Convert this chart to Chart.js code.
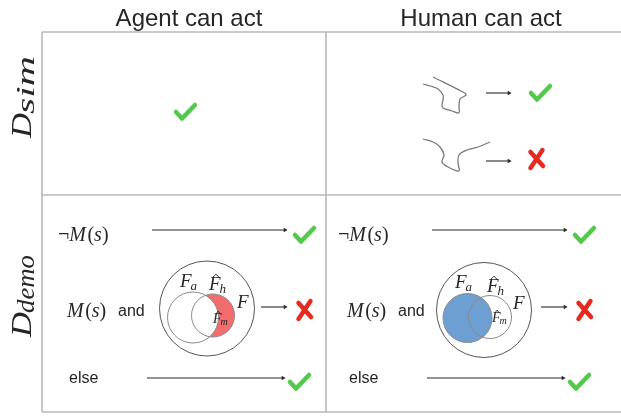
<!DOCTYPE html>
<html>
<head>
<meta charset="utf-8">
<script src="https://cdn.jsdelivr.net/npm/chart.js@4/dist/chart.umd.min.js"></script>
<style>
  html, body { margin: 0; padding: 0; background: #fff; }
  canvas { display: block; }
</style>
</head>
<body>
<canvas id="diagram" width="621" height="417"></canvas>
<script>
// headings
var colLabels = ['Agent can act', 'Human can act'];
var rowSubs = ['sim', 'demo'];

// conditions of the D_demo row
var condMath = ['¬M(s)', 'M(s)', ''];
var condWords = ['', 'and', 'else'];
var demoOutcome = ['ok', 'fail', 'ok'];

// D_sim row: agent cell is always ok, the two human trajectories
var simAgentOutcome = 'ok';
var simHumanOutcome = ['ok', 'fail'];

// set labels in the venn pictures
var setLabels = ['a', 'h', 'm'];   // F_a, F^_h, F^_m and F

// hand drawn trajectories (human / sim cell)
var trajA_x = [423, 430, 438, 443, 443, 442, 443, 452, 459, 459, 460, 466, 463, 433];
var trajA_y = [84, 86, 89, 95, 100, 105, 108, 111, 113, 107, 99, 95, 92, 77];
var trajB_x = [423, 433, 440, 444, 442, 448, 459, 458, 459, 467, 478, 490];
var trajB_y = [139, 142, 147, 155, 162, 167, 171, 163, 155, 150, 147, 142];

// layout (pixels of the 621x417 picture)
var G = {left: 42, top: 32, right: 621, bottom: 412, midX: 326, midY: 195};
var cellDx = 280;
var rowY = [230, 307, 378];        // arrow heights in demo row
var arrowX = [[152, 287], [261, 287], [147, 285]];
var venn = [
  {big: [207, 308.5, 47.5], fa: [193, 317.5, 25.5], fh: [213, 315.5, 21.5], fill: 'fh'},
  {big: [484, 310, 47.5], fa: [467.5, 318, 24.5], fh: [490, 317, 21.5], fill: 'fa'}
];

var GREEN = '#52c94a', RED = '#e62a20', GRID = '#b8b8b8', INK = '#262626';

var datasets = [];
function addLine(xs, ys, color, width, opts) {
  var pts = xs.map(function (x, i) { return {x: x, y: ys[i]}; });
  var d = {
    data: pts, showLine: true, borderColor: color, backgroundColor: color,
    borderWidth: width, pointRadius: 0, tension: 0, fill: false, clip: false
  };
  for (var k in opts) d[k] = opts[k];
  datasets.push(d);
}

// table grid
addLine([G.left, G.right], [G.top, G.top], GRID, 1.6);
addLine([G.left, G.right], [G.midY, G.midY], GRID, 1.6);
addLine([G.left, G.right], [G.bottom, G.bottom], GRID, 1.6);
addLine([G.left, G.left], [G.top, G.bottom], GRID, 1.6);
addLine([G.midX, G.midX], [G.top, G.bottom], GRID, 1.6);

// trajectories
addLine(trajA_x, trajA_y, '#7a7a7a', 1.3, {tension: 0.35});
addLine(trajB_x, trajB_y, '#7a7a7a', 1.3, {tension: 0.35});

// arrows
function addArrow(x0, x1, y) {
  addLine([x0, x1 - 2], [y, y], '#2a2a2a', 1.1, {
    pointRadius: [0, 2.6], pointStyle: 'triangle', rotation: 90,
    pointBorderWidth: 0
  });
}
addArrow(486, 511, 93);
addArrow(486, 511, 161);
[0, 1].forEach(function (c) {
  rowY.forEach(function (y, r) {
    addArrow(arrowX[r][0] + c * cellDx, arrowX[r][1] + c * cellDx, y);
  });
});

function drawCheck(ctx, x0, y0) {
  ctx.save();
  ctx.strokeStyle = GREEN;
  ctx.lineWidth = 4.5;
  ctx.lineCap = 'round';
  ctx.lineJoin = 'round';
  ctx.beginPath();
  ctx.moveTo(x0 + 3, y0 + 10);
  ctx.lineTo(x0 + 9, y0 + 16.5);
  ctx.lineTo(x0 + 22, y0 + 3);
  ctx.stroke();
  ctx.restore();
}
function drawCross(ctx, x0, y0) {
  ctx.save();
  ctx.strokeStyle = RED;
  ctx.lineWidth = 4.5;
  ctx.lineCap = 'round';
  ctx.beginPath();
  ctx.moveTo(x0 + 2.5, y0 + 4);
  ctx.lineTo(x0 + 15, y0 + 18);
  ctx.moveTo(x0 + 14.5, y0 + 2);
  ctx.lineTo(x0 + 2.5, y0 + 20);
  ctx.stroke();
  ctx.restore();
}
function drawOutcome(ctx, kind, x0, y0) {
  if (kind === 'ok') drawCheck(ctx, x0, y0); else drawCross(ctx, x0, y0);
}

function serif(size, italic) {
  return (italic ? 'italic ' : '') + size + 'px "Liberation Serif"';
}
function drawMath(ctx, str, x, y, size) {
  str.split('').forEach(function (c) {
    ctx.font = serif(size, /[A-Za-z]/.test(c));
    ctx.fillText(c, x, y);
    x += ctx.measureText(c).width + (c === 'M' ? 1.5 : 0);
  });
  return x;
}
function fitText(ctx, txt, font, x, y, w) {
  ctx.font = font;
  var m = ctx.measureText(txt).width;
  ctx.save();
  ctx.translate(x, y);
  ctx.scale(w / m, 1);
  ctx.fillText(txt, 0, 0);
  ctx.restore();
}
function hat(ctx, x, y, w) {
  ctx.save();
  ctx.strokeStyle = INK;
  ctx.lineWidth = 0.9;
  ctx.beginPath();
  ctx.moveTo(x - w, y + 2);
  ctx.lineTo(x, y - 1);
  ctx.lineTo(x + w, y + 2);
  ctx.stroke();
  ctx.restore();
}
function labelF(ctx, x, y, size, sub, withHat) {
  ctx.font = serif(size, true);
  ctx.fillText('F', x, y);
  var w = ctx.measureText('F').width;
  if (withHat) hat(ctx, x + w * 0.6, y - size * 0.78, size * 0.16);
  if (sub) {
    ctx.font = serif(Math.round(size * 0.7), true);
    ctx.fillText(sub, x + w - 1, y + size * 0.15);
  }
}

var diagramPlugin = {
  id: 'diagram',
  afterDatasetsDraw: function (chart) {
    var ctx = chart.ctx, sx = chart.scales.x, sy = chart.scales.y;
    function px(v) { return sx.getPixelForValue(v); }
    function py(v) { return sy.getPixelForValue(v); }
    function circle(c, fill, stroke, lw) {
      ctx.beginPath();
      ctx.arc(px(c[0]), py(c[1]), px(c[0] + c[2]) - px(c[0]), 0, Math.PI * 2);
      if (fill) { ctx.fillStyle = fill; ctx.fill(); }
      if (stroke) { ctx.strokeStyle = stroke; ctx.lineWidth = lw; ctx.stroke(); }
    }

    ctx.save();
    ctx.fillStyle = INK;
    ctx.textBaseline = 'alphabetic';

    // column headings
    ctx.textAlign = 'center';
    ctx.font = '24px "Liberation Sans"';
    ctx.fillText(colLabels[0], px(189), py(26));
    ctx.fillText(colLabels[1], px(481), py(26));
    ctx.textAlign = 'left';

    // row headings (rotated)
    var rowStart = [138, 337];
    rowSubs.forEach(function (s, i) {
      ctx.save();
      ctx.translate(px(31), py(rowStart[i]));
      ctx.rotate(-Math.PI / 2);
      fitText(ctx, 'D', serif(30, true), 0, 0, 25);
      fitText(ctx, s, serif(25, true), 24, 3, 58);
      ctx.restore();
    });

    // D_sim row
    drawOutcome(ctx, simAgentOutcome, px(173), py(102));
    drawOutcome(ctx, simHumanOutcome[0], px(528), py(83));
    drawOutcome(ctx, simHumanOutcome[1], px(528), py(148));

    // D_demo row
    [0, 1].forEach(function (c) {
      var dx = c * cellDx;
      ctx.fillStyle = INK;
      drawMath(ctx, condMath[0], px(58 + dx), py(241), 20);
      drawMath(ctx, condMath[1], px(67 + dx), py(317), 20);
      ctx.font = '16px "Liberation Sans"';
      ctx.fillText(condWords[1], px(118 + dx), py(316));
      ctx.fillText(condWords[2], px(69 + dx), py(383));

      var v = venn[c];
      if (v.fill === 'fh') {
        circle(v.fh, '#f26d6d');
        circle(v.fa, '#ffffff');
      } else {
        circle(v.fa, '#6e9fd3');
      }
      circle(v.big, null, '#555', 1);
      circle(v.fa, null, '#8a8a8a', 1);
      circle(v.fh, null, '#8a8a8a', 1);

      ctx.fillStyle = INK;
      var lx = c === 0 ? [180, 209, 237, 213] : [455, 487, 513, 492];
      var ly = c === 0 ? [287, 290, 308, 323] : [288, 292, 309, 322];
      labelF(ctx, px(lx[0]), py(ly[0]), 19, setLabels[0], false);
      labelF(ctx, px(lx[1]), py(ly[1]), 19, setLabels[1], true);
      labelF(ctx, px(lx[2]), py(ly[2]), 19, '', false);
      labelF(ctx, px(lx[3]), py(ly[3]), 14, setLabels[2], true);

      drawOutcome(ctx, demoOutcome[0], px(292 + dx), py(225));
      drawOutcome(ctx, demoOutcome[1], px(296 + dx), py(299));
      drawOutcome(ctx, demoOutcome[2], px(287 + dx), py(372));
    });
    ctx.restore();
  }
};

new Chart(document.getElementById('diagram').getContext('2d'), {
  type: 'scatter',
  data: {datasets: datasets},
  options: {
    responsive: false,
    animation: false,
    layout: {padding: 0, autoPadding: false},
    plugins: {legend: {display: false}, tooltip: {enabled: false}},
    scales: {
      x: {type: 'linear', min: 0, max: 621, display: false},
      y: {type: 'linear', min: 0, max: 417, reverse: true, display: false}
    }
  },
  plugins: [diagramPlugin]
});
</script>
</body>
</html>
